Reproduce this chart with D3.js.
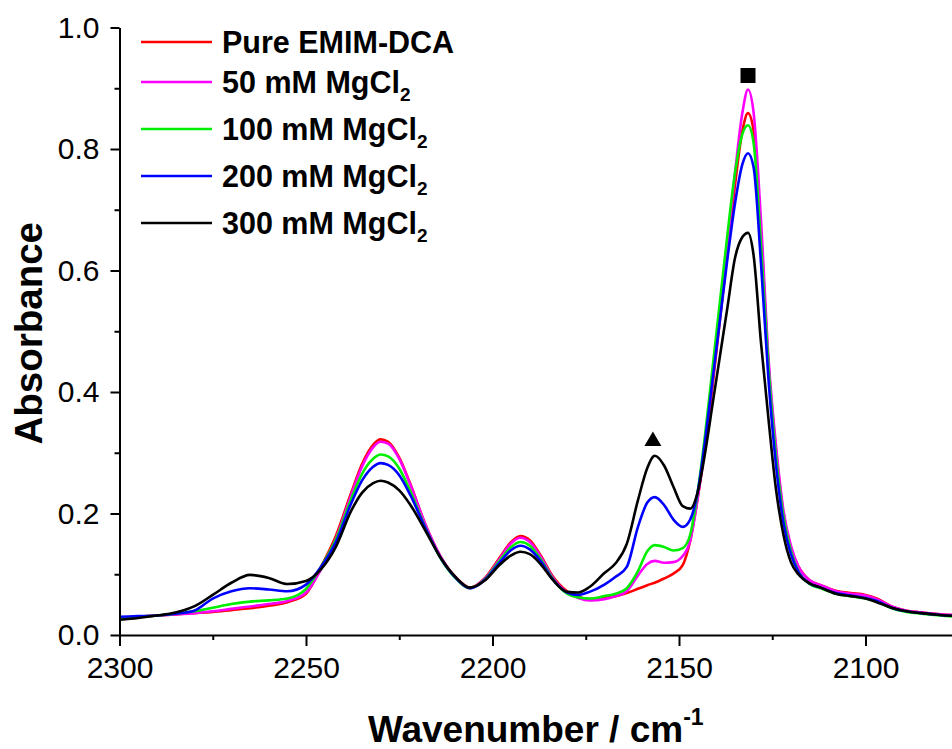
<!DOCTYPE html>
<html>
<head>
<meta charset="utf-8">
<script src="https://cdn.jsdelivr.net/npm/d3@7"></script>
<style>
  body { margin: 0; background: #fff; }
  svg text { font-family: "Liberation Sans", Arial, sans-serif; fill: #000; }
</style>
</head>
<body>
<script>
// Wavenumber grid (cm-1).
const wavenumbers = [
  2300, 2295, 2290, 2285, 2280, 2275, 2270, 2265, 2260, 2255,
  2250, 2246, 2242, 2238, 2235, 2232, 2230, 2228, 2225, 2222,
  2218, 2214, 2210, 2206, 2202, 2198, 2195, 2192.5, 2190, 2187,
  2184, 2180, 2177, 2174, 2170, 2167, 2164, 2161, 2158.5, 2156.5,
  2154, 2151.5, 2149, 2147, 2145, 2143, 2141, 2139, 2137, 2135,
  2133, 2131.5, 2130, 2128, 2126, 2124, 2122, 2120, 2118, 2115,
  2112, 2108, 2104, 2100, 2097, 2093, 2089, 2085, 2080, 2075
];

const pureEMIM = [
  .028, .030, .032, .034, .036, .038, .041, .044, .048, .054,
  .068, .112, .163, .232, .281, .313, .322, .318, .292, .248,
  .182, .130, .096, .078, .094, .128, .153, .163, .156, .130,
  .098, .072, .063, .059, .061, .064, .069, .076, .082, .086,
  .093, .101, .115, .155, .225, .310, .410, .520, .630, .740,
  .830, .859, .830, .660, .445, .305, .200, .143, .113, .090,
  .082, .073, .069, .066, .060, .047, .040, .037, .034, .032
];

const mg50 = [
  .027, .030, .032, .034, .036, .039, .043, .047, .051, .056,
  .070, .108, .158, .228, .277, .309, .318, .315, .290, .247,
  .182, .130, .095, .077, .093, .126, .151, .160, .153, .128,
  .096, .070, .061, .057, .059, .064, .072, .098, .117, .122,
  .119, .120, .130, .155, .225, .315, .420, .530, .645, .760,
  .860, .898, .860, .680, .455, .312, .205, .147, .113, .090,
  .082, .072, .068, .065, .059, .047, .040, .037, .034, .032
];

const mg100 = [
  .028, .030, .032, .035, .039, .045, .051, .055, .057, .060,
  .076, .112, .157, .222, .265, .290, .297, .294, .274, .236,
  .177, .127, .094, .077, .092, .123, .145, .153, .147, .124,
  .094, .068, .062, .060, .064, .068, .077, .105, .138, .148,
  .145, .139, .143, .165, .235, .330, .440, .550, .660, .760,
  .825, .839, .810, .640, .440, .295, .195, .138, .105, .084,
  .077, .068, .064, .060, .055, .044, .038, .035, .032, .030
];

const mg200 = [
  .030, .031, .032, .035, .040, .060, .072, .077, .075, .072,
  .083, .112, .153, .215, .254, .277, .283, .280, .263, .230,
  .176, .128, .095, .077, .091, .120, .140, .147, .141, .121,
  .093, .070, .066, .071, .083, .096, .112, .178, .218, .227,
  .214, .190, .178, .190, .235, .320, .420, .520, .620, .710,
  .775, .793, .770, .610, .420, .280, .185, .133, .104, .085,
  .078, .069, .065, .061, .056, .045, .039, .036, .033, .031
];

const mg300 = [
  .025, .028, .032, .037, .047, .066, .086, .099, .094, .084,
  .089, .108, .145, .203, .234, .250, .254, .251, .238, .214,
  .172, .128, .096, .078, .090, .116, .131, .137, .133, .116,
  .092, .071, .070, .079, .102, .118, .150, .222, .275, .295,
  .279, .244, .212, .208, .235, .300, .380, .460, .540, .620,
  .655, .662, .625, .480, .355, .240, .165, .120, .100, .085,
  .078, .068, .064, .060, .054, .045, .039, .036, .033, .031
];

const seriesValues = [pureEMIM, mg50, mg100, mg200, mg300];
const seriesNames = ["Pure EMIM-DCA", "50 mM MgCl", "100 mM MgCl", "200 mM MgCl", "300 mM MgCl"];
const seriesSubs = ["", "2", "2", "2", "2"];
const seriesColors = ["#ff0000", "#ff00ff", "#00ee00", "#0000ff", "#000000"];

const xTicks = [2300, 2250, 2200, 2150, 2100];
const xMinorTicks = [2275, 2225, 2175, 2125, 2075];
const yTicks = [0, 0.2, 0.4, 0.6, 0.8, 1.0];
const yMinorTicks = [0.1, 0.3, 0.5, 0.7, 0.9];

// Peak markers: triangle over the 2157 band, square over the 2131 band.
const markWavenumbers = [2157, 2131.5];
const markAbsorbance = [0.319, 0.921];
const markShapes = ["triangle", "square"];

const width = 952;
const height = 749;
const margin = { left: 119.5, top: 27.5, bottom: 114 };

const x = d3.scaleLinear()
  .domain([2300, 2075])
  .range([margin.left, margin.left + 225 * 3.73]);

const y = d3.scaleLinear()
  .domain([0, 1])
  .range([height - margin.bottom, margin.top]);

const svg = d3.select("body").append("svg")
  .attr("width", width)
  .attr("height", height);

// Spectra, drawn red first so black ends on top.
const line = d3.line()
  .x((d) => x(d[0]))
  .y((d) => y(d[1]))
  .curve(d3.curveMonotoneX);

svg.append("g")
  .attr("fill", "none")
  .attr("stroke-width", 2.6)
  .attr("stroke-linejoin", "round")
  .selectAll("path")
  .data(seriesValues)
  .join("path")
  .attr("stroke", (d, i) => seriesColors[i])
  .attr("d", (vals) => line(wavenumbers.map((w, j) => [w, vals[j]])));

// Axes.
const xAxis = svg.append("g")
  .attr("transform", `translate(0,${y(0)})`)
  .call(d3.axisBottom(x).tickValues(xTicks).tickFormat(d3.format("d"))
    .tickSize(11).tickPadding(11).tickSizeOuter(0));

svg.append("g")
  .attr("transform", `translate(0,${y(0)})`)
  .call(d3.axisBottom(x).tickValues(xMinorTicks).tickFormat("")
    .tickSize(5).tickSizeOuter(0))
  .call((g) => g.select(".domain").remove());

const yAxis = svg.append("g")
  .attr("transform", `translate(${margin.left},0)`)
  .call(d3.axisLeft(y).tickValues(yTicks).tickFormat(d3.format(".1f"))
    .tickSize(9).tickPadding(11).tickSizeOuter(0));

svg.append("g")
  .attr("transform", `translate(${margin.left},0)`)
  .call(d3.axisLeft(y).tickValues(yMinorTicks).tickFormat("")
    .tickSize(5).tickSizeOuter(0))
  .call((g) => g.select(".domain").remove());

svg.selectAll(".domain, .tick line")
  .attr("stroke", "#000")
  .attr("stroke-width", 2);

xAxis.selectAll("text").attr("font-size", 30).attr("font-family", null);
yAxis.selectAll("text").attr("font-size", 30).attr("font-family", null);

// Axis titles.
const xTitle = svg.append("text")
  .attr("x", (margin.left + width) / 2)
  .attr("y", 742)
  .attr("text-anchor", "middle")
  .attr("font-size", 37)
  .attr("font-weight", "bold");
xTitle.append("tspan").text("Wavenumber / cm");
xTitle.append("tspan").attr("font-size", 23).attr("dy", -17).text("-1");

svg.append("text")
  .attr("transform", `translate(42,${y(0.5) + 2}) rotate(-90)`)
  .attr("text-anchor", "middle")
  .attr("font-size", 38.5)
  .attr("font-weight", "bold")
  .text("Absorbance");

// Legend.
const legendY = (i) => (i === 0 ? 42 : 82 + (i - 1) * 47);
const legend = svg.append("g")
  .selectAll("g")
  .data(seriesNames)
  .join("g")
  .attr("transform", (d, i) => `translate(141,${legendY(i)})`);

legend.append("line")
  .attr("x1", 0).attr("x2", 71)
  .attr("stroke", (d, i) => seriesColors[i])
  .attr("stroke-width", 2.6);

const legendText = legend.append("text")
  .attr("x", 81)
  .attr("y", 11)
  .attr("font-size", 30.5)
  .attr("font-weight", "bold");
legendText.append("tspan").text((d) => d);
legendText.append("tspan")
  .attr("font-size", 19)
  .attr("dy", 8)
  .text((d, i) => seriesSubs[i]);

// Peak markers.
svg.append("g")
  .selectAll("path")
  .data(markWavenumbers)
  .join("path")
  .attr("transform", (d, i) => `translate(${x(d)},${y(markAbsorbance[i])})`)
  .attr("d", (d, i) => d3.symbol()
    .type(markShapes[i] === "triangle" ? d3.symbolTriangle : d3.symbolSquare)
    .size(markShapes[i] === "triangle" ? 125 : 225)())
  .attr("fill", "#000");
</script>
</body>
</html>
